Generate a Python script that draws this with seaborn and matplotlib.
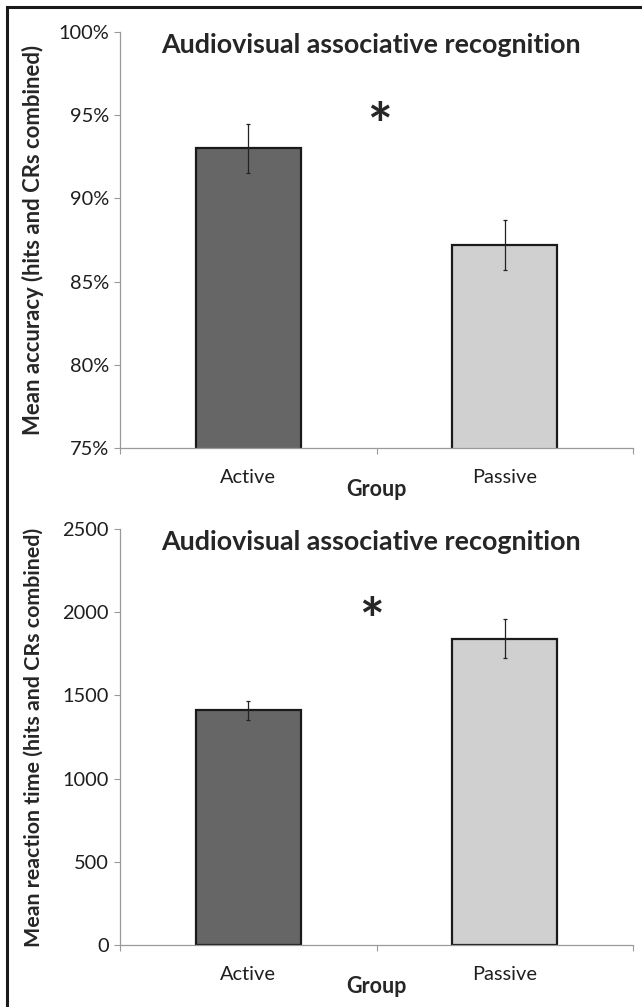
import pandas as pd
import matplotlib
matplotlib.use("Agg")
import matplotlib.pyplot as plt
import matplotlib.ticker as mtick
from matplotlib.patches import Rectangle
import seaborn as sns

# Data
groups = ["Active", "Passive"]
accuracy = [93.0, 87.2]          # percent
accuracy_err = [1.5, 1.5]
rt = [1410, 1840]                # ms
rt_err = [55, 118]

title = "Audiovisual associative recognition"
bar_colors = {"Active": "#666666", "Passive": "#d0d0d0"}

sns.set_theme(style="white")
plt.rcParams["font.family"] = ["Lato", "DejaVu Sans"]

fig = plt.figure(figsize=(6.42, 10.07), dpi=100)
W, H = 642, 1007


def px_axes(left, top, right, bottom):
    return fig.add_axes([left / W, 1 - bottom / H, (right - left) / W, (bottom - top) / H])


def draw_panel(ax, values, errs, ylim, yticks, ylabel, ylabel_size, star_x, star_y, title_y):
    df = pd.DataFrame({"Group": groups, "Value": values})
    sns.barplot(data=df, x="Group", y="Value", hue="Group", palette=bar_colors,
                width=0.41, edgecolor="#1a1a1a", linewidth=1.6, legend=False, ax=ax)
    ax.errorbar(range(len(groups)), values, yerr=errs, fmt="none",
                ecolor="#222222", elinewidth=0.9, capsize=1.5, capthick=0.9)
    ax.set_xlim(-0.5, 1.5)
    ax.set_ylim(*ylim)
    ax.set_yticks(yticks)
    for side in ["top", "right"]:
        ax.spines[side].set_visible(False)
    for side in ["left", "bottom"]:
        ax.spines[side].set_color("#9a9a9a")
        ax.spines[side].set_linewidth(0.9)
    ax.tick_params(axis="y", which="major", left=True, length=4, width=0.8,
                   color="#9a9a9a", labelsize=14.4, pad=4, labelcolor="#1e1e1e")
    ax.tick_params(axis="x", which="major", bottom=False, labelsize=14.4,
                   pad=9, labelcolor="#1e1e1e")
    ax.set_xticks([-0.5, 0.5, 1.5], minor=True)
    ax.tick_params(axis="x", which="minor", bottom=True, length=4, width=0.8,
                   color="#9a9a9a")
    ax.set_xlabel("Group", fontsize=15.5, fontweight="bold", labelpad=-5)
    ax.set_ylabel(ylabel, fontsize=ylabel_size, fontweight="bold")
    ax.yaxis.set_label_coords(-0.148, 0.5)
    ax.text(0.49, title_y, title, transform=ax.get_yaxis_transform(), ha="center",
            va="center", fontsize=19.4, fontweight="bold")
    ax.text(star_x, star_y, "*", ha="center", va="center", fontsize=42,
            fontweight="bold")


ax1 = px_axes(120, 32, 633, 448)
draw_panel(ax1, accuracy, accuracy_err, (75, 100), [75, 80, 85, 90, 95, 100],
           "Mean accuracy (hits and CRs combined)", 15.9, 0.51, 94.2, 99.2)
ax1.yaxis.set_major_formatter(mtick.PercentFormatter(100, decimals=0))

ax2 = px_axes(120, 529, 633, 945)
draw_panel(ax2, rt, rt_err, (0, 2500), [0, 500, 1000, 1500, 2000, 2500],
           "Mean reaction time (hits and CRs combined)", 15.4, 0.48, 1930, 2420)

# frame around the whole figure (only top and left edges fall inside the image)
fig.patches.append(Rectangle((7 / W, -0.1), 1.2, 1.1 - 7 / H, transform=fig.transFigure,
                             fill=False, edgecolor="#1a1a1a", linewidth=2.2, clip_on=False))

fig.savefig("out.png", dpi=100, facecolor="white")
